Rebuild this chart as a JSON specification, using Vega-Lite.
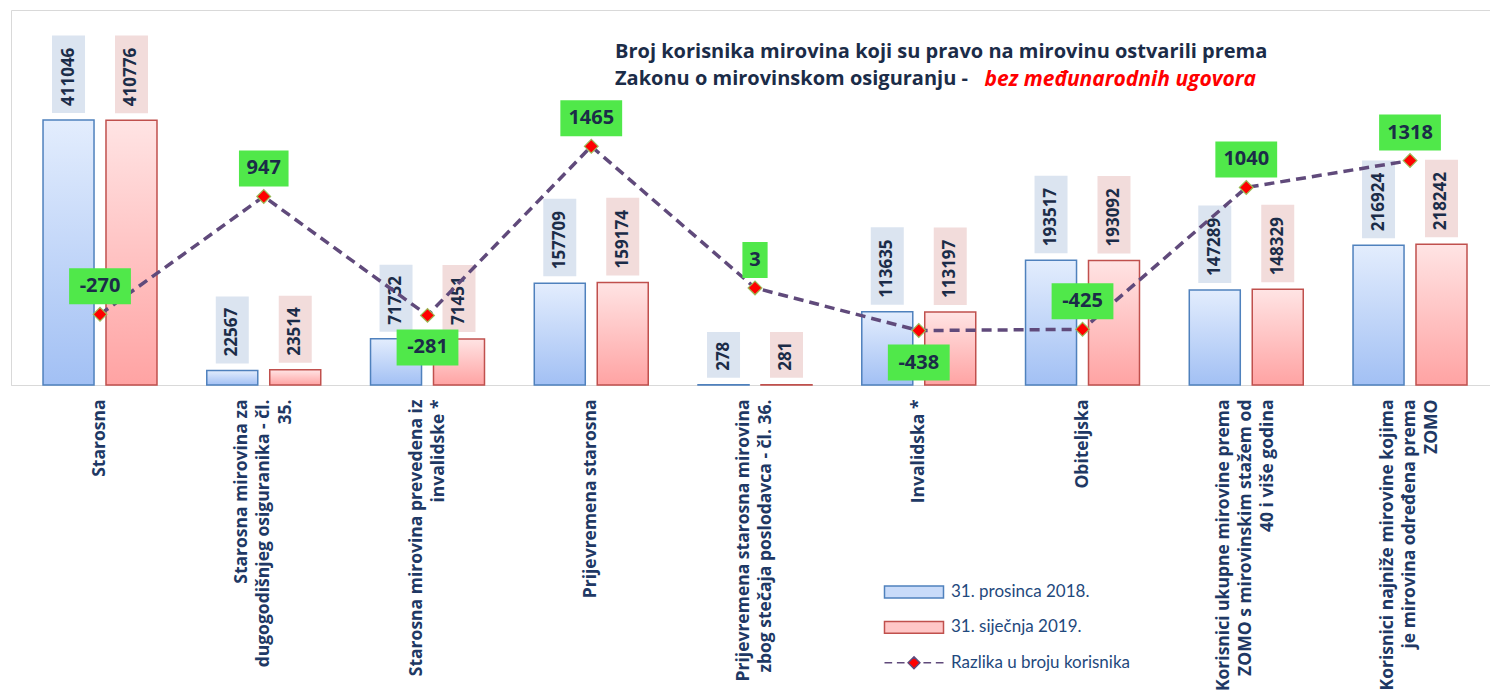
{
  "$schema": "https://vega.github.io/schema/vega-lite/v6.json",
  "width": 1479,
  "height": 375,
  "autosize": {"type": "none"},
  "padding": {"left": 11, "top": 10, "right": 0, "bottom": 308},
  "background": "white",
  "title": {
    "text": ["Broj korisnika mirovina koji su pravo na mirovinu ostvarili prema", "Zakonu o mirovinskom osiguranju -"],
    "anchor": "start",
    "frame": "group",
    "align": "left",
    "dx": 604,
    "offset": -95,
    "baseline": "alphabetic",
    "font": "Open Sans",
    "fontSize": 20,
    "fontWeight": "bold",
    "color": "#1b2c48",
    "lineHeight": 27
  },
  "data": {
    "values": [
      {"kategorija": "Starosna", "serija": "31. prosinca 2018.", "vrijednost": 411046},
      {"kategorija": "Starosna", "serija": "31. siječnja 2019.", "vrijednost": 410776},
      {"kategorija": "Starosna", "serija": "Razlika u broju korisnika", "vrijednost": -270},
      {"kategorija": "Starosna mirovina za dugogodišnjeg osiguranika - čl. 35.", "serija": "31. prosinca 2018.", "vrijednost": 22567},
      {"kategorija": "Starosna mirovina za dugogodišnjeg osiguranika - čl. 35.", "serija": "31. siječnja 2019.", "vrijednost": 23514},
      {"kategorija": "Starosna mirovina za dugogodišnjeg osiguranika - čl. 35.", "serija": "Razlika u broju korisnika", "vrijednost": 947},
      {"kategorija": "Starosna mirovina prevedena iz invalidske *", "serija": "31. prosinca 2018.", "vrijednost": 71732},
      {"kategorija": "Starosna mirovina prevedena iz invalidske *", "serija": "31. siječnja 2019.", "vrijednost": 71451},
      {"kategorija": "Starosna mirovina prevedena iz invalidske *", "serija": "Razlika u broju korisnika", "vrijednost": -281},
      {"kategorija": "Prijevremena starosna", "serija": "31. prosinca 2018.", "vrijednost": 157709},
      {"kategorija": "Prijevremena starosna", "serija": "31. siječnja 2019.", "vrijednost": 159174},
      {"kategorija": "Prijevremena starosna", "serija": "Razlika u broju korisnika", "vrijednost": 1465},
      {"kategorija": "Prijevremena starosna mirovina zbog stečaja poslodavca - čl. 36.", "serija": "31. prosinca 2018.", "vrijednost": 278},
      {"kategorija": "Prijevremena starosna mirovina zbog stečaja poslodavca - čl. 36.", "serija": "31. siječnja 2019.", "vrijednost": 281},
      {"kategorija": "Prijevremena starosna mirovina zbog stečaja poslodavca - čl. 36.", "serija": "Razlika u broju korisnika", "vrijednost": 3},
      {"kategorija": "Invalidska *", "serija": "31. prosinca 2018.", "vrijednost": 113635},
      {"kategorija": "Invalidska *", "serija": "31. siječnja 2019.", "vrijednost": 113197},
      {"kategorija": "Invalidska *", "serija": "Razlika u broju korisnika", "vrijednost": -438},
      {"kategorija": "Obiteljska", "serija": "31. prosinca 2018.", "vrijednost": 193517},
      {"kategorija": "Obiteljska", "serija": "31. siječnja 2019.", "vrijednost": 193092},
      {"kategorija": "Obiteljska", "serija": "Razlika u broju korisnika", "vrijednost": -425},
      {"kategorija": "Korisnici ukupne mirovine prema ZOMO s mirovinskim stažem od 40 i više godina", "serija": "31. prosinca 2018.", "vrijednost": 147289},
      {"kategorija": "Korisnici ukupne mirovine prema ZOMO s mirovinskim stažem od 40 i više godina", "serija": "31. siječnja 2019.", "vrijednost": 148329},
      {"kategorija": "Korisnici ukupne mirovine prema ZOMO s mirovinskim stažem od 40 i više godina", "serija": "Razlika u broju korisnika", "vrijednost": 1040},
      {"kategorija": "Korisnici najniže mirovine kojima je mirovina određena prema ZOMO", "serija": "31. prosinca 2018.", "vrijednost": 216924},
      {"kategorija": "Korisnici najniže mirovine kojima je mirovina određena prema ZOMO", "serija": "31. siječnja 2019.", "vrijednost": 218242},
      {"kategorija": "Korisnici najniže mirovine kojima je mirovina određena prema ZOMO", "serija": "Razlika u broju korisnika", "vrijednost": 1318}
    ]
  },
  "encoding": {
    "x": {
      "field": "kategorija",
      "type": "nominal",
      "sort": null,
      "title": "bez međunarodnih ugovora",
      "scale": {
        "domain": [
          "Starosna",
          "Starosna mirovina za dugogodišnjeg osiguranika - čl. 35.",
          "Starosna mirovina prevedena iz invalidske *",
          "Prijevremena starosna",
          "Prijevremena starosna mirovina zbog stečaja poslodavca - čl. 36.",
          "Invalidska *",
          "Obiteljska",
          "Korisnici ukupne mirovine prema ZOMO s mirovinskim stažem od 40 i više godina",
          "Korisnici najniže mirovine kojima je mirovina određena prema ZOMO"
        ],
        "paddingInner": 0.304,
        "paddingOuter": 0.168,
        "align": 0.582
      },
      "axis": {
        "labelAngle": -90,
        "labelAlign": "right",
        "labelBaseline": "middle",
        "labelPadding": 14,
        "labelFont": "Open Sans",
        "labelFontSize": 17.5,
        "labelFontWeight": "bold",
        "labelColor": "#203864",
        "labelLineHeight": 22,
        "labelLimit": 0,
        "labelOverlap": false,
        "labelOffset": {
          "condition": [
            {"test": "indexof(['Starosna mirovina za dugogodišnjeg osiguranika - čl. 35.', 'Korisnici ukupne mirovine prema ZOMO s mirovinskim stažem od 40 i više godina', 'Korisnici najniže mirovine kojima je mirovina određena prema ZOMO'], datum.value) >= 0", "value": -22},
            {"test": "indexof(['Starosna mirovina prevedena iz invalidske *', 'Prijevremena starosna mirovina zbog stečaja poslodavca - čl. 36.'], datum.value) >= 0", "value": -11}
          ],
          "value": 0
        },
        "labelExpr": "datum.label == 'Starosna mirovina za dugogodišnjeg osiguranika - čl. 35.' ? ['Starosna mirovina za', 'dugogodišnjeg osiguranika - čl.', '35.'] : datum.label == 'Starosna mirovina prevedena iz invalidske *' ? ['Starosna mirovina prevedena iz', 'invalidske *'] : datum.label == 'Prijevremena starosna mirovina zbog stečaja poslodavca - čl. 36.' ? ['Prijevremena starosna mirovina', 'zbog stečaja poslodavca - čl. 36.'] : datum.label == 'Korisnici ukupne mirovine prema ZOMO s mirovinskim stažem od 40 i više godina' ? ['Korisnici ukupne mirovine prema', 'ZOMO s mirovinskim stažem od', '40 i više godina'] : datum.label == 'Korisnici najniže mirovine kojima je mirovina određena prema ZOMO' ? ['Korisnici najniže mirovine kojima', 'je mirovina određena prema', 'ZOMO'] : datum.label",
        "ticks": false,
        "grid": false,
        "domainColor": "#d9d9d9",
        "domainWidth": 1,
        "titleX": 973,
        "titleY": -300,
        "titleAngle": 0,
        "titleAlign": "left",
        "titleBaseline": "alphabetic",
        "titleColor": "#ff0000",
        "titleFont": "Open Sans",
        "titleFontSize": 21,
        "titleFontWeight": "bold",
        "titleFontStyle": "italic"
      }
    }
  },
  "layer": [
    {
      "transform": [{"filter": "datum.serija == '31. prosinca 2018.'"}],
      "mark": {
        "type": "bar",
        "fill": {"gradient": "linear", "x1": 0, "y1": 0, "x2": 0, "y2": 1, "stops": [{"offset": 0, "color": "#e3edfd"}, {"offset": 1, "color": "#a2c0f4"}]},
        "stroke": "#4f81bd",
        "strokeWidth": 1.5
      },
      "encoding": {
        "xOffset": {"field": "serija", "type": "nominal", "scale": {"domain": ["31. prosinca 2018.", "31. siječnja 2019."], "paddingInner": 0.19, "paddingOuter": 0}},
        "y": {"field": "vrijednost", "type": "quantitative", "scale": {"domain": [0, 581650], "nice": false, "zero": false}, "axis": null}
      }
    },
    {
      "transform": [{"filter": "datum.serija == '31. siječnja 2019.'"}],
      "mark": {
        "type": "bar",
        "fill": {"gradient": "linear", "x1": 0, "y1": 0, "x2": 0, "y2": 1, "stops": [{"offset": 0, "color": "#ffe4e4"}, {"offset": 1, "color": "#ffa3a3"}]},
        "stroke": "#c0504d",
        "strokeWidth": 1.5
      },
      "encoding": {
        "xOffset": {"field": "serija", "type": "nominal", "scale": {"domain": ["31. prosinca 2018.", "31. siječnja 2019."], "paddingInner": 0.19, "paddingOuter": 0}},
        "y": {"field": "vrijednost", "type": "quantitative", "scale": {"domain": [0, 581650], "nice": false, "zero": false}, "axis": null}
      }
    },
    {
      "transform": [{"filter": "datum.serija != 'Razlika u broju korisnika'"}],
      "mark": {
        "type": "bar",
        "width": 33,
        "yOffset": -7,
        "y2Offset": {"expr": "-21 - 10.6 * length(toString(datum.vrijednost))"},
        "fill": {"expr": "datum.serija == '31. prosinca 2018.' ? '#dbe4f0' : '#f2dcdb'"}
      },
      "encoding": {
        "xOffset": {"field": "serija", "type": "nominal", "scale": {"domain": ["31. prosinca 2018.", "31. siječnja 2019."], "paddingInner": 0.19, "paddingOuter": 0}},
        "y": {"field": "vrijednost", "type": "quantitative", "scale": {"domain": [0, 581650], "nice": false, "zero": false}, "axis": null},
        "y2": {"field": "vrijednost"}
      }
    },
    {
      "transform": [{"filter": "datum.serija != 'Razlika u broju korisnika'"}],
      "mark": {
        "type": "text",
        "angle": 270,
        "align": "left",
        "baseline": "middle",
        "yOffset": -14,
        "font": "Open Sans",
        "fontSize": 17,
        "fontWeight": "bold",
        "color": "#1b2c48"
      },
      "encoding": {
        "xOffset": {"field": "serija", "type": "nominal", "scale": {"domain": ["31. prosinca 2018.", "31. siječnja 2019."], "paddingInner": 0.19, "paddingOuter": 0}},
        "y": {"field": "vrijednost", "type": "quantitative", "scale": {"domain": [0, 581650], "nice": false, "zero": false}, "axis": null},
        "text": {"field": "vrijednost", "type": "nominal"}
      }
    },
    {
      "transform": [{"filter": "datum.serija == 'Razlika u broju korisnika'"}],
      "mark": {"type": "line", "stroke": "#604a7b", "strokeWidth": 3.5, "strokeDash": [10, 6]},
      "encoding": {
        "y": {"field": "vrijednost", "type": "quantitative", "scale": {"domain": [-1000, 2873], "nice": false, "zero": false}, "axis": null}
      }
    },
    {
      "transform": [{"filter": "datum.serija == 'Razlika u broju korisnika'"}],
      "mark": {"type": "point", "shape": "diamond", "filled": true, "fill": "#ff0000", "stroke": "#9bbb59", "strokeWidth": 1.2, "size": 190, "opacity": 1},
      "encoding": {
        "y": {"field": "vrijednost", "type": "quantitative", "scale": {"domain": [-1000, 2873], "nice": false, "zero": false}, "axis": null}
      }
    },
    {
      "transform": [{"filter": "datum.serija == 'Razlika u broju korisnika'"}],
      "mark": {
        "type": "bar",
        "fill": "#50e84a",
        "width": {"expr": "13 + 12.2 * length(toString(datum.vrijednost))"},
        "yOffset": {"expr": "(datum.kategorija == 'Starosna mirovina prevedena iz invalidske *' || datum.kategorija == 'Invalidska *') ? 14 : -10"},
        "y2Offset": {"expr": "(datum.kategorija == 'Starosna mirovina prevedena iz invalidske *' || datum.kategorija == 'Invalidska *') ? 50 : -46"}
      },
      "encoding": {
        "y": {"field": "vrijednost", "type": "quantitative", "scale": {"domain": [-1000, 2873], "nice": false, "zero": false}, "axis": null},
        "y2": {"field": "vrijednost"}
      }
    },
    {
      "transform": [{"filter": "datum.serija == 'Razlika u broju korisnika'"}],
      "mark": {
        "type": "text",
        "align": "center",
        "baseline": "middle",
        "font": "Open Sans",
        "fontSize": 20,
        "fontWeight": "bold",
        "color": "#1b2c48",
        "yOffset": {"expr": "(datum.kategorija == 'Starosna mirovina prevedena iz invalidske *' || datum.kategorija == 'Invalidska *') ? 32 : -28"}
      },
      "encoding": {
        "y": {"field": "vrijednost", "type": "quantitative", "scale": {"domain": [-1000, 2873], "nice": false, "zero": false}, "axis": null},
        "text": {"field": "vrijednost", "type": "nominal"}
      }
    },
    {
      "mark": {"type": "point", "filled": true, "opacity": 0},
      "encoding": {
        "y": {"field": "vrijednost", "type": "quantitative", "axis": null},
        "fill": {
          "field": "serija",
          "type": "nominal",
          "scale": {"domain": ["31. prosinca 2018.", "31. siječnja 2019.", "Razlika u broju korisnika"], "range": ["#c9dbf9", "#ffc7c7", "#ff0000"]},
          "legend": {
            "title": null,
            "orient": "none",
            "legendX": 890,
            "legendY": 569,
            "symbolSize": 557,
            "rowPadding": 13.4,
            "labelOffset": 24,
            "labelFont": "Lato",
            "labelFontSize": 17,
            "labelColor": "#1f497d",
            "labelLimit": 0,
            "symbolOpacity": 1,
            "encoding": {
              "symbols": {
                "fill": {
                  "condition": [
                    {"test": "datum.value == '31. prosinca 2018.'", "value": {"gradient": "linear", "x1": 0, "y1": 0, "x2": 0, "y2": 1, "stops": [{"offset": 0, "color": "#e3edfd"}, {"offset": 1, "color": "#a2c0f4"}]}},
                    {"test": "datum.value == '31. siječnja 2019.'", "value": {"gradient": "linear", "x1": 0, "y1": 0, "x2": 0, "y2": 1, "stops": [{"offset": 0, "color": "#ffe4e4"}, {"offset": 1, "color": "#ffa3a3"}]}}
                  ],
                  "value": "#ff0000"
                },
                "fillOpacity": {"value": 1}
              }
            }
          }
        },
        "stroke": {
          "field": "serija",
          "type": "nominal",
          "scale": {"domain": ["31. prosinca 2018.", "31. siječnja 2019.", "Razlika u broju korisnika"], "range": ["#4f81bd", "#c0504d", "#604a7b"]}
        },
        "shape": {
          "field": "serija",
          "type": "nominal",
          "scale": {"domain": ["31. prosinca 2018.", "31. siječnja 2019.", "Razlika u broju korisnika"], "range": ["M-2.5,-0.5H2.5V0.5H-2.5Z", "M-2.5,-0.5H2.5V0.5H-2.5Z", "M-2.5,0H-1.85M-1.45,0H-0.8M0.8,0H1.45M1.85,0H2.5M0,-0.5L0.5,0L0,0.5L-0.5,0Z"]}
        },
        "strokeWidth": {
          "field": "serija",
          "type": "nominal",
          "scale": {"domain": ["31. prosinca 2018.", "31. siječnja 2019.", "Razlika u broju korisnika"], "range": [1.5, 1.5, 3]}
        }
      }
    }
  ],
  "resolve": {"scale": {"y": "independent"}},
  "config": {
    "view": {"stroke": "#d9d9d9", "strokeWidth": 1},
    "font": "Open Sans"
  }
}
